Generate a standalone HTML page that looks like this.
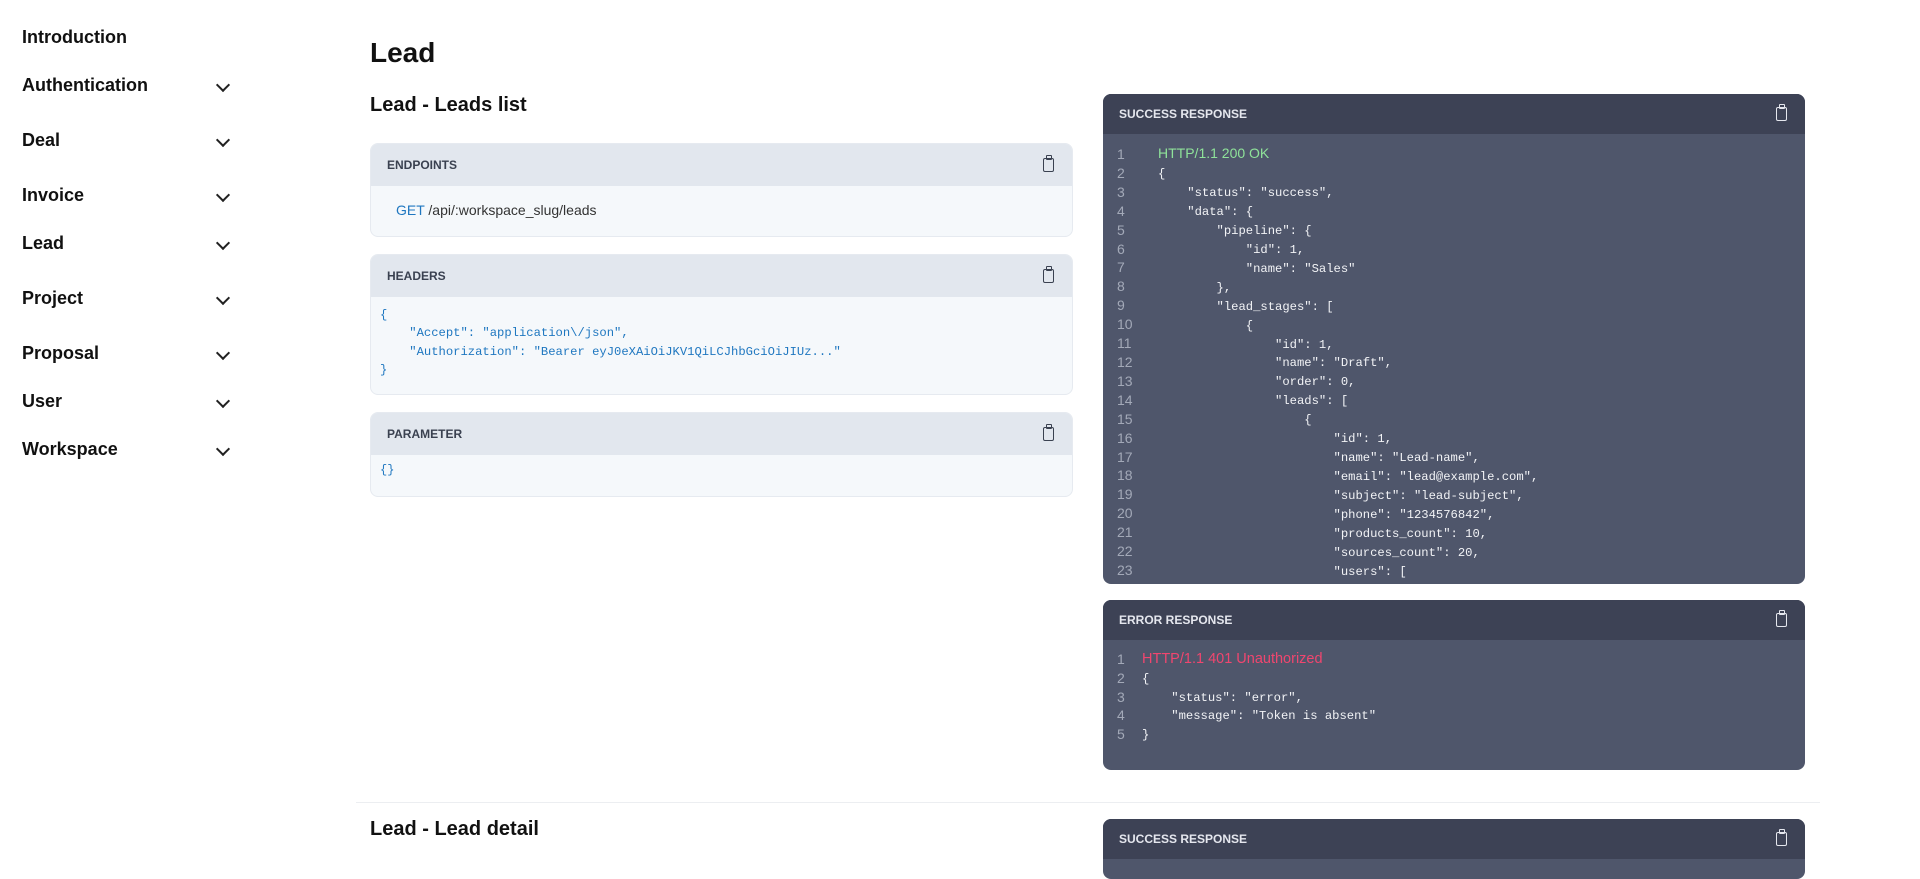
<!DOCTYPE html>
<html><head><meta charset="utf-8"><style>
*{margin:0;padding:0;box-sizing:border-box}
body{width:1920px;height:865px;background:#fff;font-family:"Liberation Sans",sans-serif;position:relative;overflow:hidden;color:#111}
.nav{position:absolute;left:22px;font-size:18px;font-weight:600;color:#111}
.chev{position:absolute;left:218px;width:10px;height:10px;border-right:2px solid #222;border-bottom:2px solid #222;transform:rotate(45deg)}
.abs{position:absolute}
.lcard{position:absolute;left:370px;width:703px;border:1px solid #e6eaf0;border-radius:8px;background:#f5f8fb;overflow:hidden}
.lhead{height:42px;background:#e2e7ee;font-size:12px;color:#3a4150;padding-left:16px;line-height:42px;font-weight:600;position:relative}
.clip{position:absolute;right:18px;top:50%;margin-top:-7px;width:11px;height:14px;border:1.6px solid currentColor;border-radius:2px}
.clip:before{content:"";position:absolute;left:2px;top:-4px;width:4px;height:3px;border:1.5px solid currentColor;border-radius:1px;background:inherit}
.dcard{position:absolute;left:1103px;width:702px;border-radius:8px;background:#4f566b;overflow:hidden}
.dhead{height:40px;background:#3d4255;color:#e5e7ee;font-size:12px;font-weight:600;padding-left:16px;line-height:40px;position:relative}
.mono{font-family:"Liberation Mono",monospace;white-space:pre}
.ln{position:absolute;color:#a3a9b8;font-size:14px}
.code{position:absolute;font-size:12.2px;color:#f2f3f6;line-height:18.9px}
</style></head><body>

<div class="nav" style="top:27px">Introduction</div>
<div class="nav" style="top:75px">Authentication</div><div class="chev" style="top:80px"></div>
<div class="nav" style="top:130px">Deal</div><div class="chev" style="top:135px"></div>
<div class="nav" style="top:185px">Invoice</div><div class="chev" style="top:190px"></div>
<div class="nav" style="top:233px">Lead</div><div class="chev" style="top:238px"></div>
<div class="nav" style="top:288px">Project</div><div class="chev" style="top:293px"></div>
<div class="nav" style="top:343px">Proposal</div><div class="chev" style="top:348px"></div>
<div class="nav" style="top:391px">User</div><div class="chev" style="top:396px"></div>
<div class="nav" style="top:439px">Workspace</div><div class="chev" style="top:444px"></div>

<div class="abs" style="left:370px;top:37px;font-size:28px;font-weight:600">Lead</div>
<div class="abs" style="left:370px;top:94px;font-size:20px;font-weight:600">Lead - Leads list</div>

<div class="lcard" style="top:143px;height:94px">
 <div class="lhead">ENDPOINTS<span class="clip"></span></div>
 <div class="abs" style="left:25px;top:58px;font-size:14px;color:#333"><span style="color:#1f77c0">GET</span> /api/:workspace_slug/leads</div>
</div>

<div class="lcard" style="top:254px;height:141px">
 <div class="lhead">HEADERS<span class="clip"></span></div>
 <div class="mono abs" style="left:9px;top:51px;font-size:12.2px;line-height:18.3px;color:#1f77c0">{
    "Accept": "application\/json",
    "Authorization": "Bearer eyJ0eXAiOiJKV1QiLCJhbGciOiJIUz..."
}</div>
</div>

<div class="lcard" style="top:412px;height:85px">
 <div class="lhead">PARAMETER<span class="clip"></span></div>
 <div class="mono abs" style="left:9px;top:50px;font-size:12px;color:#1f77c0">{}</div>
</div>

<div class="dcard" style="top:94px;height:490px">
 <div class="dhead">SUCCESS RESPONSE<span class="clip" style="color:#e5e7ee"></span></div>
 <div class="ln" style="left:14px;top:51px;line-height:18.9px;font-size:14px">1<br>2<br>3<br>4<br>5<br>6<br>7<br>8<br>9<br>10<br>11<br>12<br>13<br>14<br>15<br>16<br>17<br>18<br>19<br>20<br>21<br>22<br>23</div>
 <div class="code mono" style="left:55px;top:50px;line-height:18.95px"><span style="color:#8fe39a;font-family:'Liberation Sans',sans-serif;font-size:14px">HTTP/1.1 200 OK</span>
{
    "status": "success",
    "data": {
        "pipeline": {
            "id": 1,
            "name": "Sales"
        },
        "lead_stages": [
            {
                "id": 1,
                "name": "Draft",
                "order": 0,
                "leads": [
                    {
                        "id": 1,
                        "name": "Lead-name",
                        "email": "lead@example.com",
                        "subject": "lead-subject",
                        "phone": "1234576842",
                        "products_count": 10,
                        "sources_count": 20,
                        "users": [
                            {</div>
</div>

<div class="dcard" style="top:600px;height:170px">
 <div class="dhead">ERROR RESPONSE<span class="clip" style="color:#e5e7ee"></span></div>
 <div class="ln" style="left:14px;top:50px;line-height:18.8px">1<br>2<br>3<br>4<br>5</div>
 <div class="code mono" style="left:39px;top:50px;line-height:18.8px"><span style="color:#f0466f;font-family:'Liberation Sans',sans-serif;font-size:14.5px">HTTP/1.1 401 Unauthorized</span>
{
    "status": "error",
    "message": "Token is absent"
}</div>
</div>

<div class="abs" style="left:356px;top:802px;width:1464px;height:1px;background:#eceef1"></div>
<div class="abs" style="left:370px;top:818px;font-size:20px;font-weight:600">Lead - Lead detail</div>
<div class="dcard" style="top:819px;height:60px">
 <div class="dhead">SUCCESS RESPONSE<span class="clip" style="color:#e5e7ee"></span></div>
</div>
</body></html>
